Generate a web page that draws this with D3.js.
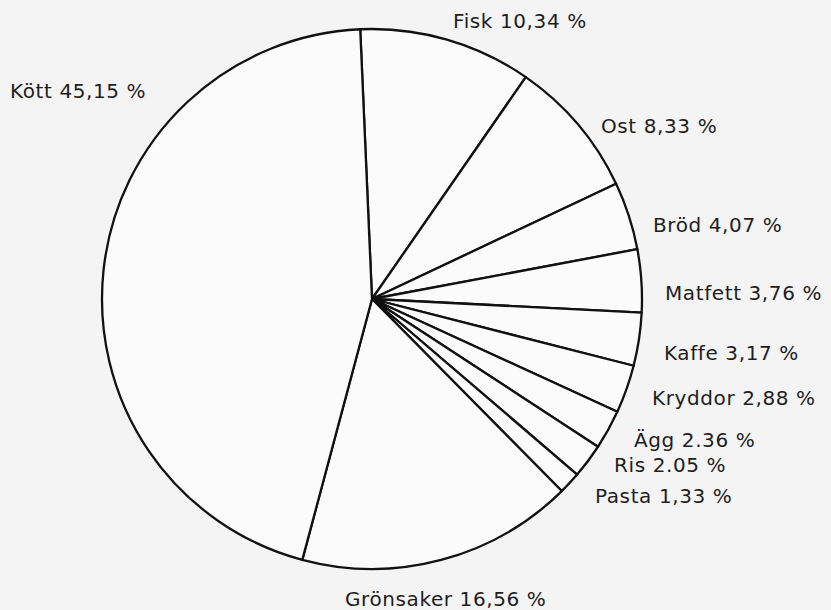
<!DOCTYPE html>
<html>
<head>
<meta charset="utf-8">
<script src="https://cdn.jsdelivr.net/npm/d3@7"></script>
<style>
  html, body { margin: 0; padding: 0; background: #f4f4f4; }
  svg { display: block; }
  text { font-family: "DejaVu Sans", sans-serif; fill: #1e1e1e; }
</style>
</head>
<body>
<svg id="chart" width="831" height="610"></svg>
<script>
// Data (clockwise from top)
const categories = ["Fisk", "Ost", "Bröd", "Matfett", "Kaffe", "Kryddor", "Ägg", "Ris", "Pasta", "Grönsaker", "Kött"];
const values = [10.34, 8.33, 4.07, 3.76, 3.17, 2.88, 2.36, 2.05, 1.33, 16.56, 45.15];
const labels = ["Fisk 10,34 %", "Ost 8,33 %", "Bröd 4,07 %", "Matfett 3,76 %", "Kaffe 3,17 %", "Kryddor 2,88 %", "Ägg 2.36 %", "Ris 2.05 %", "Pasta 1,33 %", "Grönsaker 16,56 %", "Kött 45,15 %"];

// Layout (label anchors, left/baseline)
const labelX = [453, 601, 653, 665, 664, 652, 634, 614, 595, 345, 10];
const labelY = [28, 133, 232, 300, 360, 405, 447, 472, 503, 606, 98];

const svg = d3.select("#chart");
const cx = 372, cy = 299, R = 270;

const pie = d3.pie().sort(null).value(d => d)
  .startAngle(-2.5 * Math.PI / 180)
  .endAngle(-2.5 * Math.PI / 180 + 2 * Math.PI);
const arc = d3.arc().innerRadius(0).outerRadius(R);

const g = svg.append("g").attr("transform", `translate(${cx},${cy})`);
g.selectAll("path")
  .data(pie(values))
  .join("path")
  .attr("d", arc)
  .attr("fill", "#fbfbfb")
  .attr("stroke", "#111")
  .attr("stroke-width", 2.3)
  .attr("stroke-linejoin", "round");

svg.selectAll("text.lbl")
  .data(labels)
  .join("text")
  .attr("class", "lbl")
  .attr("x", (d, i) => labelX[i])
  .attr("y", (d, i) => labelY[i])
  .attr("font-size", 20)
  .attr("letter-spacing", 0.6)
  .text(d => d);
</script>
</body>
</html>
